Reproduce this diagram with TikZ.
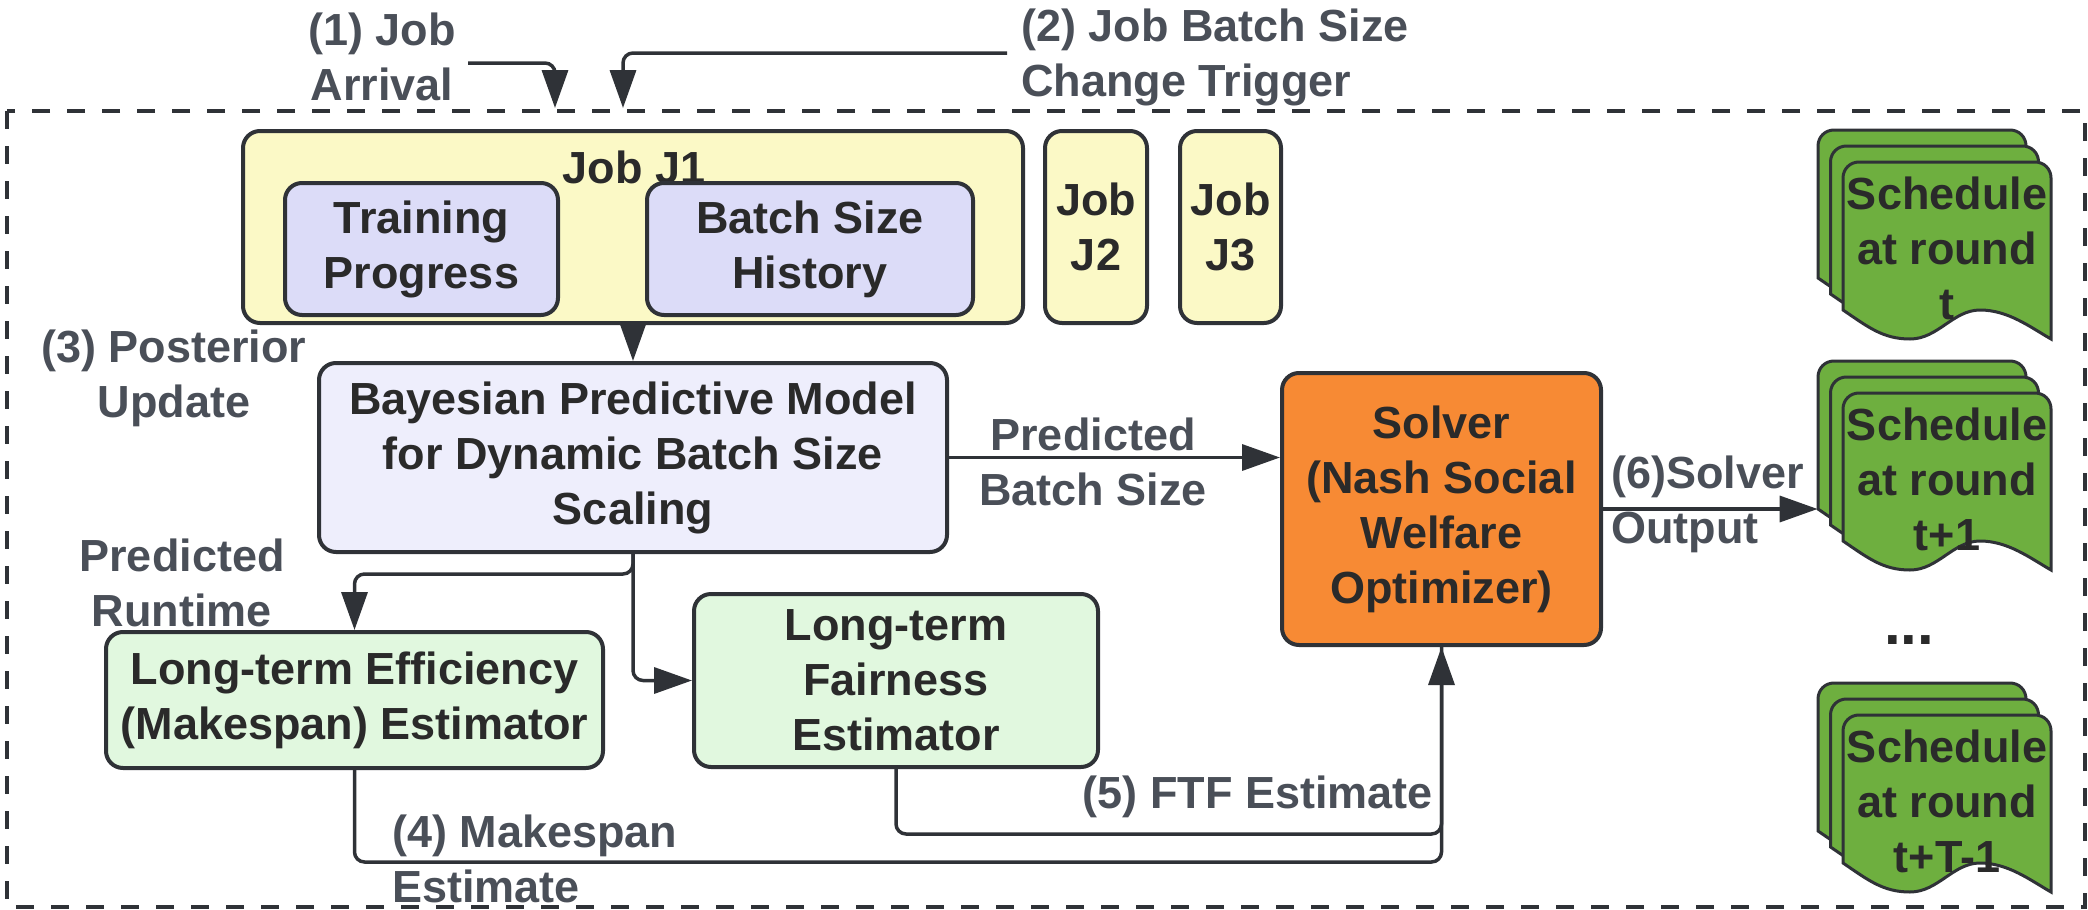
\documentclass[tikz,border=0pt]{standalone}
\usepackage{fontspec}
\setmainfont{Liberation Sans}
\usetikzlibrary{arrows.meta,calc}

\definecolor{edgec}{HTML}{2F3237}
\definecolor{labelc}{HTML}{4A4F58}
\definecolor{textc}{HTML}{2A2A2A}
\definecolor{jobfill}{HTML}{FBF9C6}
\definecolor{lavfill}{HTML}{DCDCF8}
\definecolor{bayesfill}{HTML}{EEEEFC}
\definecolor{estfill}{HTML}{E1F8DF}
\definecolor{solverfill}{HTML}{F78A34}
\definecolor{docgreen}{HTML}{6EAF3F}

\newcommand{\diagfont}{\fontsize{22.5}{27.5}\selectfont\bfseries}

\begin{document}
\begin{tikzpicture}[x=0.5pt,y=-0.5pt,
  box/.style={draw=edgec, line width=2pt, rounded corners=8.5pt, inner sep=0pt,
    align=center, text=textc, font=\diagfont},
  txt/.style={inner sep=0pt, align=center, text=textc, font=\diagfont},
  lbl/.style={inner sep=0pt, align=center, text=labelc, font=\diagfont},
  conn/.style={draw=edgec, line width=1.75pt, rounded corners=5pt},
  arr/.style={conn, -{Triangle[length=19pt,width=13pt]}},
  sheet/.pic={
    \filldraw[draw=edgec, line width=1.5pt, fill=docgreen]
      (0,148) -- (0,16) .. controls (0,7) and (7,0) .. (16,0)
      -- (192,0) .. controls (201,0) and (208,7) .. (208,16)
      -- (208,177) .. controls (187,165) and (165,148) .. (137,148)
      .. controls (110,148) and (95,177) .. (67,177)
      .. controls (40,177) and (25,165) .. (0,148) -- cycle;
  },
  docstack/.pic={
    \pic at (0,0) {sheet};
    \pic at (12.5,16) {sheet};
    \pic at (25,32) {sheet};
  }
]
\useasboundingbox (0,0) rectangle (2088,910);

% system boundary
\draw[edgec, line width=1.75pt, dash pattern=on 9pt off 8.5pt] (7,111) rectangle (2085,907);

% jobs
\node[box, fill=jobfill, minimum width=390pt, minimum height=96pt] (j1) at (633,227) {};
\node[txt] (j1title) at (634,167) {Job J1};
\node[box, fill=lavfill, minimum width=136.5pt, minimum height=66pt] (train) at (421.5,249) {Training\\Progress};
\node[box, fill=lavfill, minimum width=163pt, minimum height=66pt] (bsh) at (810,249) {Batch Size\\History};
\node[box, fill=jobfill, minimum width=51pt, minimum height=96pt] (j2) at (1096,227) {Job\\J2};
\node[box, fill=jobfill, minimum width=50.5pt, minimum height=96pt] (j3) at (1230.5,227) {Job\\J3};

% model, estimators, solver
\node[box, fill=bayesfill, minimum width=314pt, minimum height=94.5pt] (bayes) at (633,457.5)
  {Bayesian Predictive Model\\for Dynamic Batch Size\\Scaling};
\node[box, fill=estfill, minimum width=248.5pt, minimum height=68pt] (eff) at (354.5,700)
  {Long-term Efficiency\\(Makespan) Estimator};
\node[box, fill=estfill, minimum width=202pt, minimum height=86.5pt] (fair) at (896,680.5)
  {Long-term\\Fairness\\Estimator};
\node[box, fill=solverfill, minimum width=159.5pt, minimum height=136pt] (solver) at (1441.5,509)
  {Solver\\(Nash Social\\Welfare\\Optimizer)};

% schedule stacks
\pic at (1818,130) {docstack};
\pic at (1818,361) {docstack};
\pic at (1818,683) {docstack};
\node[inner sep=0pt, minimum width=116.5pt, minimum height=105pt] (stack2) at (1934.5,464.5) {};
\node[txt] (sched1) at (1947,248) {Schedule\\at round\\t};
\node[txt] (sched2) at (1947,479) {Schedule\\at round\\t+1};
\node[txt] (sched3) at (1947,801) {Schedule\\at round\\t+T-1};
\node[txt, font=\fontsize{30}{30}\selectfont\bfseries] (dots) at (1909,640) {...};

% external triggers
\coordinate (arrivalstart) at (468,63);
\coordinate (arrivalend) at (555,108);
\coordinate (triggerstart) at (1007,53);
\coordinate (triggerend) at (623,108);
\draw[arr] (arrivalstart) -| (arrivalend);
\draw[arr] (triggerstart) -| (triggerend);

% data flow
\draw[arr] (j1.south) -- (j1.south |- bayes.north);
\draw[arr] (bayes.south) -- ++(0,20) -| (eff.north);
\draw[arr] (bayes.south) |- (fair.west);
\draw[arr] (bayes.east) -- (bayes.east -| solver.west);
\draw[arr] (solver.east) -- (solver.east -| stack2.west);
\draw[conn] (fair.south) -- ++(0,65) -| (solver.south);
\draw[arr] (eff.south) -- ++(0,92) -| (solver.south);

% labels
\node[lbl] (lab1) at (382,57) {(1) Job\\Arrival};
\node[lbl, align=left, anchor=west] (lab2) at (1021,57) {(2) Job Batch Size\\Change Trigger};
\node[lbl] (lab3) at (174,378) {(3) Posterior\\Update};
\node[lbl] (lab4) at (182,583) {Predicted\\Runtime};
\node[lbl] (lab5) at (1093,462) {Predicted\\Batch Size};
\node[lbl, align=left, anchor=west] (lab6) at (1611,504) {(6)Solver\\Output};
\node[lbl, anchor=east] (lab7) at (1433,797) {(5) FTF Estimate};
\node[lbl, align=left, anchor=west] (lab8) at (392,859) {(4) Makespan\\Estimate};
\end{tikzpicture}
\end{document}
